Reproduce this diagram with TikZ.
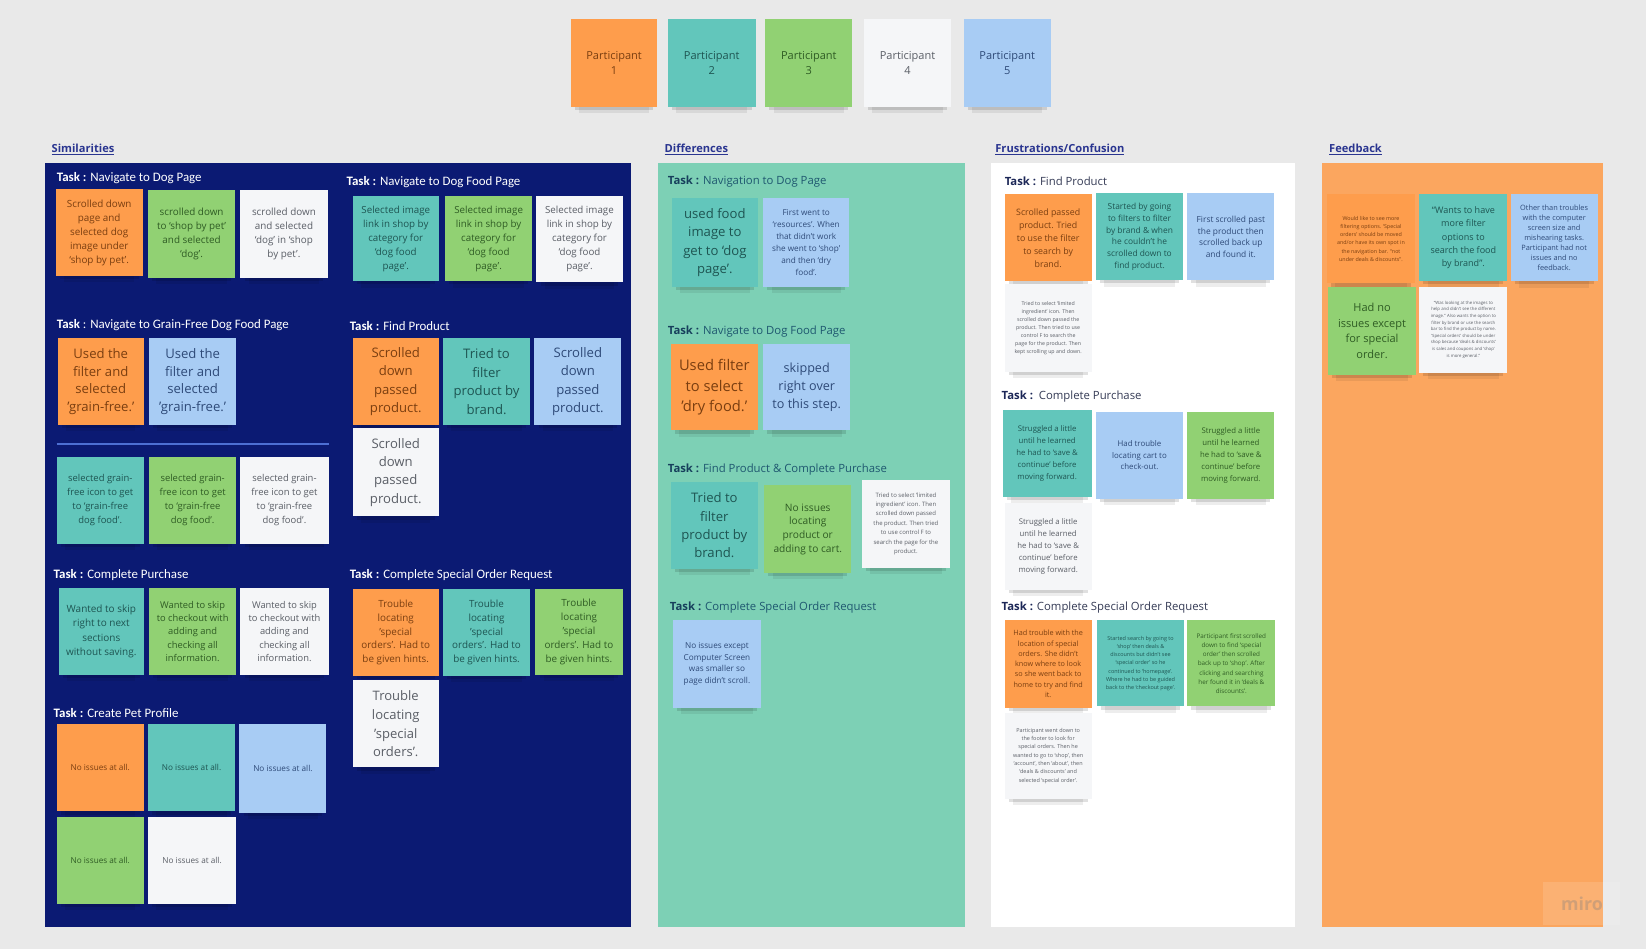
\documentclass[tikz,border=0pt]{standalone}
\usepackage{fontspec}
\setmainfont{Open Sans}
\newfontfamily\carl{Carlito}
\definecolor{bgc}{HTML}{E9E9E9}
\definecolor{navy}{HTML}{0B1A73}
\definecolor{mint}{HTML}{7DD0B5}
\definecolor{fbor}{HTML}{FBA65F}
\definecolor{nOr}{HTML}{FE9D4C}
\definecolor{nTe}{HTML}{62C6BB}
\definecolor{nGr}{HTML}{91D173}
\definecolor{nWh}{HTML}{F5F6F8}
\definecolor{nBl}{HTML}{A8CCF4}
\definecolor{tOr}{HTML}{7A3E10}
\definecolor{tTe}{HTML}{1E5552}
\definecolor{tGr}{HTML}{2F5C24}
\definecolor{tWh}{HTML}{5A5E66}
\definecolor{tBl}{HTML}{2E4A78}
\definecolor{hdr}{HTML}{2A3590}
\definecolor{difT}{HTML}{1F5870}
\definecolor{difB}{HTML}{173F5C}
\definecolor{frT}{HTML}{353B55}
\definecolor{frB}{HTML}{1C2757}
\definecolor{rulec}{HTML}{4D6FD3}
\tikzset{
  note/.style={rectangle, inner sep=0pt, align=center},
  ornote/.style={note, fill=nOr, text=tOr},
  tenote/.style={note, fill=nTe, text=tTe},
  grnote/.style={note, fill=nGr, text=tGr},
  whnote/.style={note, fill=nWh, text=tWh},
  blnote/.style={note, fill=nBl, text=tBl},
  simlabel/.style={anchor=west, inner sep=0pt, text=white, font=\carl\fontsize{12.3}{14}\selectfont},
  diflabel/.style={anchor=west, inner sep=0pt, text=difT, font=\fontsize{10.8}{13}\selectfont},
  frlabel/.style={anchor=west, inner sep=0pt, text=frT, font=\fontsize{10.8}{13}\selectfont},
  heading/.style={anchor=west, inner sep=0pt, text=hdr, font=\bfseries\fontsize{10.6}{12}\selectfont},
}
\newcommand{\stk}[9]{%
  \fill[black,opacity=0.12] ({#2+4},{#5-2}) rectangle ({#4-4},{#5+3});
  \fill[black,opacity=0.07] ({#2+8},{#5}) rectangle ({#4-8},{#5+6});
  \node[#6, minimum width={(#4-#2)*1pt}, minimum height={(#5-#3)*1pt}, font=\fontsize{#7}{#8}\selectfont] (#1) at ({(#2+#4)/2},{(#3+#5)/2}) {#9};
}
\begin{document}
\begin{tikzpicture}[x=1pt,y=-1pt]
\useasboundingbox (0,0) rectangle (1568,904);
\fill[bgc] (0,0) rectangle (1568,904);

% participants
\stk{p1}{544}{18}{626}{102}{ornote}{10.5}{15}{Participant\\1}
\stk{p2}{636}{18}{720}{102}{tenote}{10.5}{15}{Participant\\2}
\stk{p3}{729}{18}{812}{102}{grnote}{10.5}{15}{Participant\\3}
\stk{p4}{823}{18}{906}{102}{whnote}{10.5}{15}{Participant\\4}
\stk{p5}{918}{18}{1001}{102}{blnote}{10.5}{15}{Participant\\5}

% headings
\node[heading] (h1) at (49,142) {\underline{Similarities}};
\node[heading] (h2) at (633,142) {\underline{Differences}};
\node[heading] (h3) at (948,142) {\underline{Frustrations/Confusion}};
\node[heading] (h4) at (1266,142) {\underline{Feedback}};

% panels
\fill[navy] (43,155) rectangle (601,883);
\fill[mint] (627,155) rectangle (919,883);
\fill[white] (944,155) rectangle (1234,883);
\fill[fbor] (1259,155) rectangle (1527,883);

% ---------------- Similarities
\node[simlabel] (sl1) at (54,170) {\textbf{Task :} Navigate to Dog Page};
\stk{s1}{53}{180}{136}{263}{ornote}{9.4}{13.3}{Scrolled down\\page and\\selected dog\\image under\\`shop by pet'.}
\stk{s2}{141}{181}{224}{265}{grnote}{9.4}{13.3}{scrolled down\\to `shop by pet'\\and selected\\`dog'.}
\stk{s3}{229}{181}{312}{265}{whnote}{9.4}{13.3}{scrolled down\\and selected\\`dog' in `shop\\by pet'.}
\node[simlabel] (sl2) at (330,173) {\textbf{Task :} Navigate to Dog Food Page};
\stk{s4}{336}{187}{418}{268}{tenote}{9.3}{13.3}{Selected image\\link in shop by\\category for\\`dog food\\page'.}
\stk{s5}{424}{187}{507}{268}{grnote}{9.3}{13.3}{Selected image\\link in shop by\\category for\\`dog food\\page'.}
\stk{s6}{511}{187}{593}{269}{whnote}{9.3}{13.3}{Selected image\\link in shop by\\category for\\`dog food\\page'.}

\node[simlabel] (sl3) at (54,310) {\textbf{Task} : Navigate to Grain-Free Dog Food Page};
\stk{s7}{55}{322}{137}{405}{ornote}{12.5}{17}{Used the\\filter and\\selected\\'grain-free.'}
\stk{s8}{142}{322}{225}{405}{blnote}{12.5}{17}{Used the\\filter and\\selected\\'grain-free.'}
\coordinate (ra) at (54,423);
\coordinate (rb) at (313,423);
\draw[rulec, line width=1.3pt] (ra) -- (rb);
\stk{s9}{54}{435}{137}{518}{tenote}{9}{13.5}{selected grain-\\free icon to get\\to `grain-free\\dog food'.}
\stk{s10}{142}{435}{225}{518}{grnote}{9}{13.5}{selected grain-\\free icon to get\\to `grain-free\\dog food'.}
\stk{s11}{229}{435}{313}{518}{whnote}{9}{13.5}{selected grain-\\free icon to get\\to `grain-free\\dog food'.}

\node[simlabel] (sl4) at (333,311) {\textbf{Task :} Find Product};
\stk{s12}{336}{322}{418}{405}{ornote}{12.5}{17.5}{Scrolled\\down\\passed\\product.}
\stk{s13}{422}{322}{505}{405}{tenote}{12.5}{17.5}{Tried to\\filter\\product by\\brand.}
\stk{s14}{509}{322}{592}{405}{blnote}{12.5}{17.5}{Scrolled\\down\\passed\\product.}
\stk{s15}{336}{408}{418}{492}{whnote}{12.5}{17.5}{Scrolled\\down\\passed\\product.}

\node[simlabel] (sl5) at (51,548) {\textbf{Task :} Complete Purchase};
\stk{s16}{56}{560}{137}{643}{tenote}{9.5}{13.5}{Wanted to skip\\right to next\\sections\\without saving.}
\stk{s17}{142}{560}{225}{643}{grnote}{8.9}{12.5}{Wanted to skip\\to checkout with\\adding and\\checking all\\information.}
\stk{s18}{229}{560}{313}{643}{whnote}{8.9}{12.5}{Wanted to skip\\to checkout with\\adding and\\checking all\\information.}

\node[simlabel] (sl6) at (333,548) {\textbf{Task :} Complete Special Order Request};
\stk{s19}{336}{561}{418}{644}{ornote}{9.4}{13.2}{Trouble\\locating\\'special\\orders'. Had to\\be given hints.}
\stk{s20}{422}{561}{505}{644}{tenote}{9.4}{13.2}{Trouble\\locating\\'special\\orders'. Had to\\be given hints.}
\stk{s21}{510}{561}{593}{643}{grnote}{9.4}{13.2}{Trouble\\locating\\'special\\orders'. Had to\\be given hints.}
\stk{s22}{336}{648}{418}{731}{whnote}{12.4}{17.8}{Trouble\\locating\\'special\\orders'.}

\node[simlabel] (sl7) at (51,679) {\textbf{Task :} Create Pet Profile};
\stk{s23}{54}{690}{137}{773}{ornote}{7.8}{9}{No issues at all.}
\stk{s24}{141}{690}{224}{773}{tenote}{7.8}{9}{No issues at all.}
\stk{s25}{228}{690}{311}{774}{blnote}{7.8}{9}{No issues at all.}
\stk{s26}{54}{778}{137}{861}{grnote}{7.8}{9}{No issues at all.}
\stk{s27}{141}{778}{225}{861}{whnote}{7.8}{9}{No issues at all.}

% ---------------- Differences
\node[diflabel] (dl1) at (636,173) {\textcolor{difB}{\textbf{Task :}} Navigation to Dog Page};
\stk{d1}{640}{189}{722}{273}{tenote}{12.5}{17.5}{used food\\image to\\get to `dog\\page'.}
\stk{d2}{727}{189}{809}{273}{blnote}{7.8}{11.4}{First went to\\`resources'. When\\that didn't work\\she went to `shop'\\and then `dry\\food'.}
\node[diflabel] (dl2) at (636,316) {\textcolor{difB}{\textbf{Task :}} Navigate to Dog Food Page};
\stk{d3}{639}{328}{722}{410}{ornote}{14}{19.5}{Used filter\\to select\\'dry food.'}
\stk{d4}{727}{328}{810}{410}{blnote}{12}{17}{skipped\\right over\\to this step.}
\node[diflabel] (dl3) at (636,447) {\textcolor{difB}{\textbf{Task :}} Find Product \& Complete Purchase};
\stk{d5}{639}{459}{722}{542}{tenote}{12.5}{17.5}{Tried to\\filter\\product by\\brand.}
\stk{d6}{728}{462}{811}{546}{grnote}{9.7}{13}{No issues\\locating\\product or\\adding to cart.}
\stk{d7}{821}{457}{905}{541}{whnote}{5.7}{9}{Tried to select `limited\\ingredient' icon. Then\\scrolled down passed\\the product. Then tried\\to use control F to\\search the page for the\\product.}
\node[diflabel] (dl4) at (638,579) {\textcolor{difB}{\textbf{Task :}} Complete Special Order Request};
\stk{d8}{641}{591}{725}{674}{blnote}{7.8}{11.2}{No issues except\\Computer Screen\\was smaller so\\page didn't scroll.}

% ---------------- Frustrations
\node[frlabel] (fl1) at (957,173) {\textcolor{frB}{\textbf{Task :}} Find Product};
\stk{f1}{957}{185}{1040}{268}{ornote}{8.4}{12.4}{Scrolled passed\\product. Tried\\to use the filter\\to search by\\brand.}
\stk{f2}{1044}{184}{1127}{267}{tenote}{8}{11.2}{Started by going\\to filters  to filter\\by brand \& when\\he couldn't he\\scrolled down to\\find product.}
\stk{f3}{1131}{184}{1214}{267}{blnote}{8}{11}{First scrolled past\\the product then\\scrolled back up\\and found it.}
\stk{f4}{957}{271}{1040}{354}{whnote}{5}{7.6}{Tried to select `limited\\ingredient' icon. Then\\scrolled down passed the\\product. Then tried to use\\control F to search the\\page for the product. Then\\kept scrolling up and down.}
\node[frlabel] (fl2) at (954,378) {\textcolor{frB}{\textbf{Task :}}\ \ Complete Purchase};
\stk{f5}{955}{391}{1040}{473}{tenote}{7.4}{11.4}{Struggled a little\\until he learned\\he had to `save \&\\continue' before\\moving forward.}
\stk{f6}{1044}{392}{1127}{475}{blnote}{7.5}{11}{Had trouble\\locating cart to\\check-out.}
\stk{f7}{1131}{392}{1214}{475}{grnote}{7.4}{11.4}{Struggled a little\\until he learned\\he had to `save \&\\continue' before\\moving forward.}
\stk{f8}{957}{479}{1040}{562}{whnote}{7.4}{11.4}{Struggled a little\\until he learned\\he had to `save \&\\continue' before\\moving forward.}
\node[frlabel] (fl3) at (954,579) {\textcolor{frB}{\textbf{Task :}} Complete Special Order Request};
\stk{f9}{957}{591}{1040}{674}{ornote}{6.9}{9.8}{Had trouble with the\\location of special\\orders. She didn't\\know where to look\\so she went back to\\home to try and find\\it.}
\stk{f10}{1045}{591}{1128}{673}{tenote}{5.2}{7.8}{Started search by going to\\`shop' then deals \&\\discounts but didn't see\\`special order' so he\\continued to `homepage'.\\Where he had to be guided\\back to the `checkout page'.}
\stk{f11}{1131}{591}{1215}{673}{grnote}{6}{8.8}{Participant first scrolled\\down to find `special\\order' then scrolled\\back up to `shop'. After\\clicking and searching\\her found it in `deals \&\\discounts'.}
\stk{f12}{957}{679}{1040}{761}{whnote}{5.2}{7.9}{Participant went down to\\the footer to look for\\special orders. Then he\\wanted to go to `shop', then\\`account', then `about', then\\`deals \& discounts' and\\selected `special order'.}

% ---------------- Feedback
\stk{b1}{1264}{185}{1348}{270}{ornote}{5.1}{7.8}{Would like to see more\\filtering options. `Special\\orders' should be moved\\and/or have its own spot in\\the navigation bar. ``not\\under deals \& discounts''.}
\stk{b2}{1352}{185}{1436}{268}{tenote}{8.6}{12.5}{``Wants to have\\more filter\\options to\\search the food\\by brand''.}
\stk{b3}{1439}{185}{1522}{268}{blnote}{7}{9.6}{Other than troubles\\with the computer\\screen size and\\mishearing tasks.\\Participant had not\\issues and no\\feedback.}
\stk{b4}{1265}{273}{1349}{357}{grnote}{10.5}{14.8}{Had no\\issues except\\for special\\order.}
\stk{b5}{1352}{273}{1436}{355}{whnote}{4.1}{6.3}{``Was looking at the images to\\help and didn't see the different\\image.'' Also wants the option to\\filter by brand or use the search\\bar to find the product by name.\\`Special orders'  should be under\\shop because `deals \& discounts'\\is sales and coupons and `shop'\\is more general.''}

% miro watermark
\fill[white,opacity=0.13] (1470,840) rectangle (1543,881);
\node[inner sep=0pt, text=black!50, text opacity=0.35, font=\bfseries\fontsize{17}{17}\selectfont] (miro) at (1507,861) {miro};
\end{tikzpicture}
\end{document}
